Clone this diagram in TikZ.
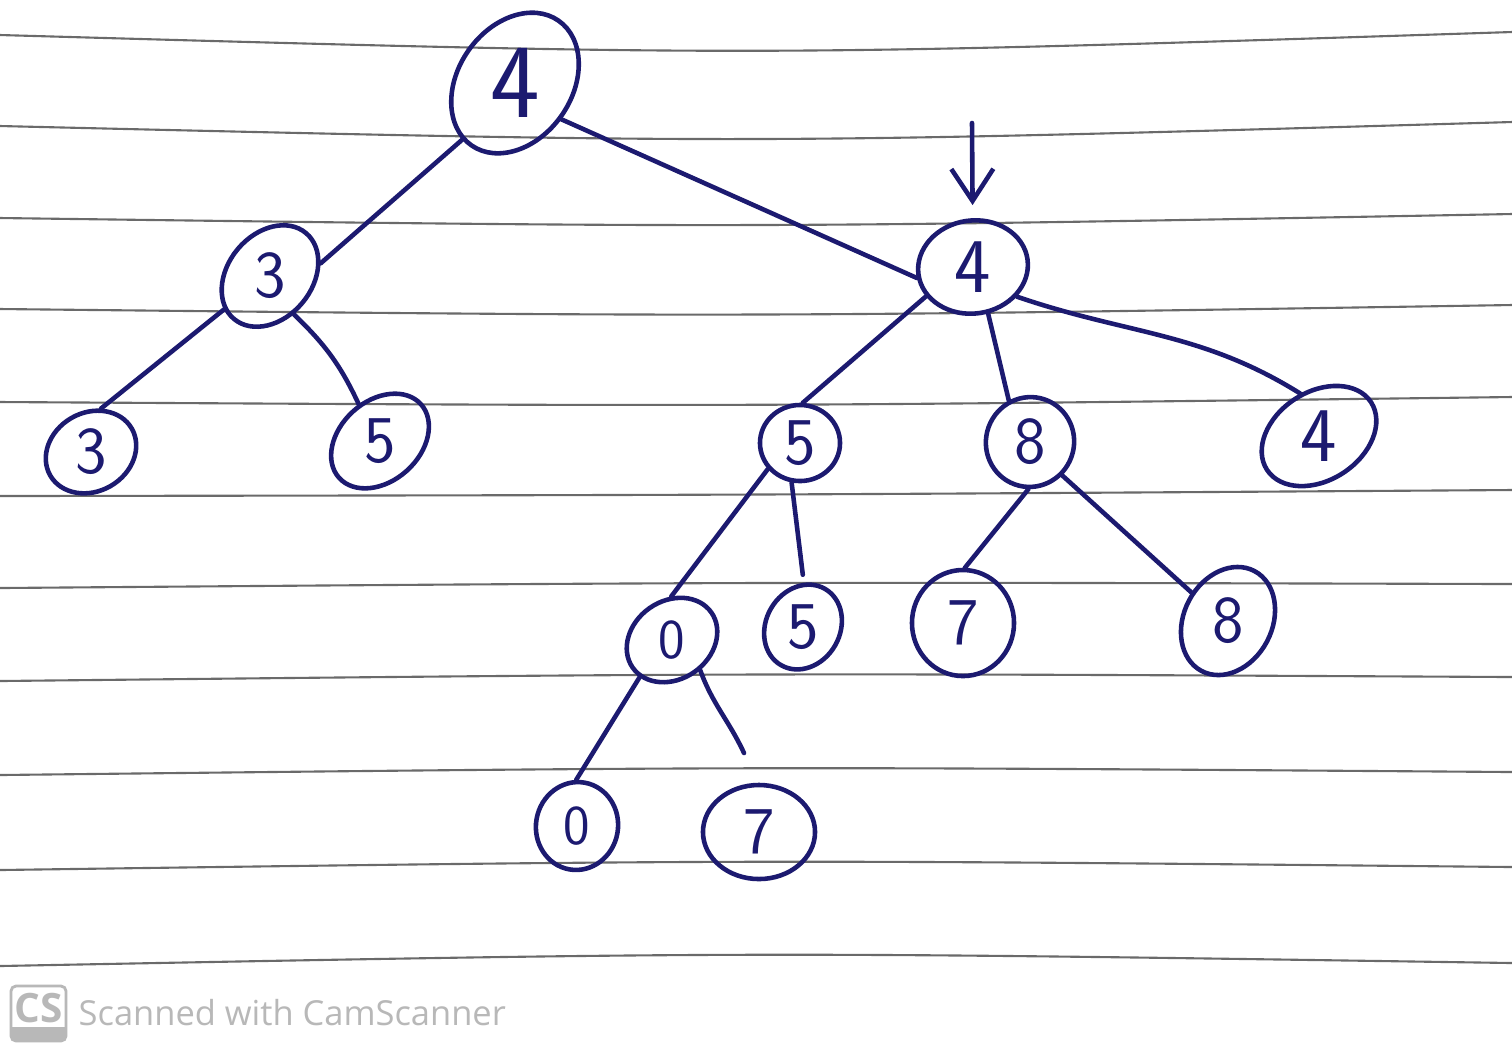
\documentclass[tikz,border=0pt]{standalone}
\usepackage{fontspec}
\newfontfamily\wmfont{Open Sans}
\usetikzlibrary{shapes.geometric,arrows.meta}
\definecolor{ink}{HTML}{1C1A70}
\definecolor{rulecol}{HTML}{6A6A6A}
\definecolor{wmgray}{HTML}{B8B8B8}
\begin{document}
\begin{tikzpicture}[x=0.01cm, y=-0.01cm,
  nd/.style n args={3}{ellipse, draw=ink, line width=1.3pt, minimum width=#1, minimum height=#2, rotate=#3, inner sep=0pt, text=ink, font=\sffamily\fontsize{19}{19}\selectfont},
  conn/.style={draw=ink, line width=1.3pt, line cap=round},
  rulel/.style={draw=rulecol, line width=0.6pt}]
\useasboundingbox (0,0) rectangle (1512,1053);
\fill[white] (0,0) rectangle (1512,1053);
% ruled paper
\foreach \a/\b/\c in {35/56.5/32, 126/144/122, 218/228/214, 309/317/305, 402/406.5/397, 496/495/490, 588/582/584, 681/673/677, 775/766.5/772, 870/859.5/867, 966/951.5/963}
  \draw[rulel] (0,\a) .. controls (756,\b) .. (1512,\c);
% nodes
\node[nd={1.10cm}{1.52cm}{-35}, font=\sffamily\fontsize{30}{30}\selectfont] (r) at (515,83) {\rotatebox{35}{4}};
\node[nd={0.84cm}{1.12cm}{-40}] (a) at (270,276) {\rotatebox{40}{3}};
\node[nd={0.94cm}{0.78cm}{30}] (aa) at (91,452) {\rotatebox{-30}{3}};
\node[nd={1.10cm}{0.80cm}{42}] (ab) at (380,441) {\rotatebox{-42}{5}};
\node[nd={1.10cm}{0.93cm}{8}, font=\sffamily\fontsize{22}{22}\selectfont] (b) at (973,267) {\rotatebox{-8}{4}};
\node[nd={0.80cm}{0.76cm}{0}] (ba) at (800,443) {5};
\node[nd={0.88cm}{0.90cm}{-20}] (bb) at (1030,442) {\rotatebox{20}{8}};
\node[nd={1.24cm}{0.84cm}{33}, font=\sffamily\fontsize{22}{22}\selectfont] (bc) at (1319,436) {\rotatebox{-33}{4}};
\node[nd={0.96cm}{0.78cm}{35}, font=\sffamily\fontsize{16}{16}\selectfont] (baa) at (672,640) {\rotatebox{-35}{0}};
\node[nd={0.74cm}{0.88cm}{-30}] (bab) at (803,627) {\rotatebox{30}{5}};
\node[nd={1.02cm}{1.06cm}{0}] (bba) at (963,623) {7};
\node[nd={0.88cm}{1.13cm}{-28}] (bbb) at (1228,621) {\rotatebox{28}{8}};
\node[nd={0.82cm}{0.88cm}{-10}, font=\sffamily\fontsize{16}{16}\selectfont] (baaa) at (577,826) {\rotatebox{10}{0}};
\node[nd={1.12cm}{0.94cm}{0}] (baab) at (759,832) {7};
% connectors
\draw[conn] (r.-98) -- (a.54);
\draw[conn] (r.-3) -- (b.-177);
\draw[conn] (a.-104) -- (aa.47);
\draw[conn] (a.-18) to[out=-44,in=115] (ab.78);
\draw[conn] (b.-156) -- (ba.86);
\draw[conn] (b.-80) -- (bb.137);
\draw[conn] (b.-42) to[out=-19,in=148] (bc.81);
\draw[conn] (ba.-141) -- (baa.56);
\draw[conn, shorten >=0.08cm] (ba.-102) -- (bab.119);
\draw[conn] (bb.-72) -- (bba.88);
\draw[conn] (bb.-26) -- (bbb.170);
\draw[conn] (baa.-166) -- (baaa.101);
\coordinate (e13) at (744,753);
\draw[conn] (baa.-82) to[out=-70,in=115] (e13);
% marker arrow
\coordinate (arrtop) at (972,123);
\draw[conn, -{Straight Barb[length=0.32cm,width=0.42cm]}, shorten >=0.13cm] (arrtop) -- (b);
% watermark
\begin{scope}
\clip[rounded corners=0.05cm] (11,986) rectangle (66,1041);
\fill[wmgray] (0,1027) rectangle (80,1050);
\end{scope}
\draw[wmgray, line width=0.8pt, rounded corners=0.05cm] (11,986) rectangle (66,1041);
\node[text=wmgray, font=\wmfont\bfseries\fontsize{11.5}{11.5}\selectfont, inner sep=0pt] (cs) at (38.5,1008) {CS};
\node[text=wmgray, anchor=base west, font=\wmfont\fontsize{9.8}{9.8}\selectfont, inner sep=0pt] (wm) at (78,1025) {Scanned with CamScanner};
\end{tikzpicture}
\end{document}
